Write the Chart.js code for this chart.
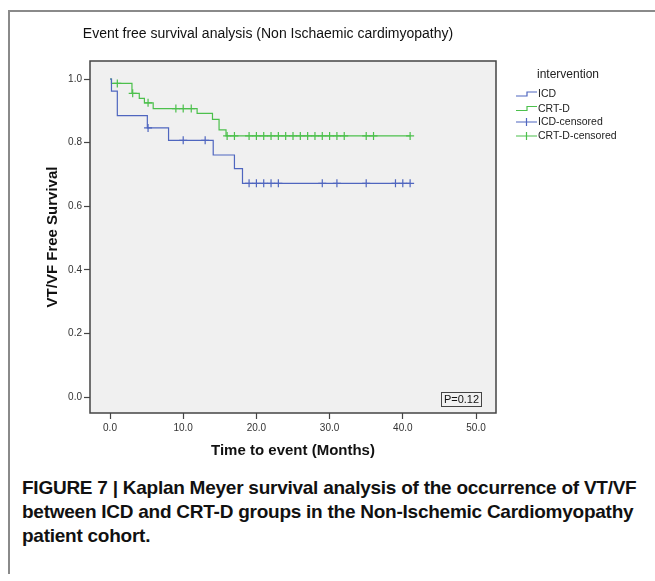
<!DOCTYPE html>
<html lang="en">
<head>
    <meta charset="UTF-8">
    <title>Event free survival analysis</title>
    <script src="https://cdn.jsdelivr.net/npm/chart.js"></script>
    <style>
        body { margin: 0; background: #fff; width: 655px; height: 581px; position: relative; overflow: hidden; }
        .frame { position: absolute; left: 8px; top: 10px; width: 660px; height: 562px;
                 border-left: 2px solid #8a8a8a; border-top: 2px solid #8a8a8a; }
        .chart-box { position: absolute; left: 0; top: 0; width: 655px; height: 470px; }
        .caption { position: absolute; left: 22px; top: 476px; white-space: nowrap;
                   font-family: "Liberation Sans", Arial, sans-serif; letter-spacing: -0.25px;
                   font-weight: bold; font-size: 19px; line-height: 24px; color: #111; }
    </style>
</head>
<body>
    <div class="frame"></div>
    <div class="chart-box"><canvas id="kmChart" width="655" height="470"></canvas></div>
    <div class="caption">FIGURE 7 | Kaplan Meyer survival analysis of the occurrence of VT/VF<br>between ICD and CRT-D groups in the Non-Ischemic Cardiomyopathy<br>patient cohort.</div>

    <script>
        // Kaplan-Meier steps (time in months, survival fraction)
        const icdTimes = [0, 0.2, 1.0, 5.1, 8.0, 14.1, 17.0, 18.1, 41.0];
        const icdSurv = [1.0, 0.962, 0.885, 0.846, 0.807, 0.761, 0.718, 0.672, 0.672];
        const icdCensorTimes = [5.2, 10.0, 13.0, 19, 20, 21, 22, 23, 29, 31, 35, 39, 40, 41];
        const icdCensorSurv = [0.846, 0.807, 0.807, 0.672, 0.672, 0.672, 0.672, 0.672, 0.672, 0.672, 0.672, 0.672, 0.672, 0.672];

        const crtTimes = [0, 0.2, 3.0, 4.0, 4.7, 5.9, 11.9, 14.0, 14.9, 15.85, 41.0];
        const crtSurv = [1.0, 0.986, 0.955, 0.939, 0.925, 0.907, 0.892, 0.873, 0.840, 0.821, 0.821];
        const crtCensorTimes = [1.0, 3.1, 5.2, 9.0, 10.0, 11.1, 16.0, 17.0, 19, 20, 21, 22, 23, 24, 25, 26, 27, 28, 29, 30, 31, 32, 35, 36, 41];
        const crtCensorSurv = [0.986, 0.955, 0.925, 0.907, 0.907, 0.907, 0.821, 0.821, 0.821, 0.821, 0.821, 0.821, 0.821, 0.821,
                               0.821, 0.821, 0.821, 0.821, 0.821, 0.821, 0.821, 0.821, 0.821, 0.821, 0.821];

        const xTickValues = [0, 10, 20, 30, 40, 50];
        const yTickValues = [0, 0.2, 0.4, 0.6, 0.8, 1.0];

        const groupLabels = ['ICD', 'CRT-D', 'ICD-censored', 'CRT-D-censored'];
        const chartTitle = 'Event free survival analysis (Non Ischaemic cardimyopathy)';
        const legendTitle = 'intervention';
        const pValueText = 'P=0.12';

        const blue = '#4f66bf';
        const green = '#4cc04c';
        const axisColor = '#444';

        function toPoints(xs, ys) {
            return xs.map((x, i) => ({ x: x, y: ys[i] }));
        }

        // plot background, frame, title, legend and the P value box
        const spssDecor = {
            id: 'spssDecor',
            beforeDatasetsDraw(chart) {
                const { ctx, chartArea: a } = chart;
                ctx.save();
                ctx.fillStyle = '#f0f0f0';
                ctx.fillRect(a.left, a.top, a.right - a.left, a.bottom - a.top);
                ctx.restore();
            },
            afterDraw(chart) {
                const { ctx, chartArea: a } = chart;
                ctx.save();
                ctx.strokeStyle = axisColor;
                ctx.lineWidth = 1.5;
                ctx.strokeRect(a.left, a.top, a.right - a.left, a.bottom - a.top);

                ctx.fillStyle = '#111';
                ctx.font = '14px "Liberation Sans", Arial, sans-serif';
                ctx.textAlign = 'center';
                ctx.textBaseline = 'middle';
                ctx.fillText(chartTitle, 268, 34);

                // legend
                ctx.font = '12px "Liberation Sans", Arial, sans-serif';
                ctx.fillStyle = '#222';
                ctx.fillText(legendTitle, 568, 75);
                ctx.textAlign = 'left';
                ctx.font = '10.5px "Liberation Sans", Arial, sans-serif';
                const rows = [94, 108.5, 122, 136];
                const cols = [blue, green, blue, green];
                rows.forEach((y, i) => {
                    ctx.strokeStyle = cols[i];
                    ctx.lineWidth = 1.2;
                    ctx.beginPath();
                    if (i < 2) {
                        ctx.moveTo(516, y + 2);
                        ctx.lineTo(527, y + 2);
                        ctx.lineTo(527, y - 2);
                        ctx.lineTo(537, y - 2);
                    } else {
                        ctx.moveTo(516, y);
                        ctx.lineTo(537, y);
                        ctx.moveTo(526.5, y - 4);
                        ctx.lineTo(526.5, y + 4);
                    }
                    ctx.stroke();
                    ctx.fillStyle = '#222';
                    ctx.fillText(groupLabels[i], 538, y + 0.5);
                });

                // P value box
                ctx.strokeStyle = axisColor;
                ctx.lineWidth = 1;
                ctx.strokeRect(441.5, 392.5, 40, 14);
                ctx.textAlign = 'center';
                ctx.fillStyle = '#111';
                ctx.font = '11px "Liberation Sans", Arial, sans-serif';
                ctx.fillText(pValueText, 461.5, 400);
                ctx.restore();
            }
        };

        const tickFont = { family: '"Liberation Sans", Arial, sans-serif', size: 10 };
        const axisTitleFont = { family: '"Liberation Sans", Arial, sans-serif', size: 15, weight: 'bold' };

        new Chart(document.getElementById('kmChart').getContext('2d'), {
            type: 'line',
            data: {
                datasets: [
                    {
                        label: groupLabels[0],
                        data: toPoints(icdTimes, icdSurv),
                        borderColor: blue, borderWidth: 1.2,
                        stepped: 'before', pointRadius: 0, fill: false
                    },
                    {
                        label: groupLabels[1],
                        data: toPoints(crtTimes, crtSurv),
                        borderColor: green, borderWidth: 1.2,
                        stepped: 'before', pointRadius: 0, fill: false
                    },
                    {
                        label: groupLabels[2],
                        data: toPoints(icdCensorTimes, icdCensorSurv),
                        showLine: false, pointStyle: 'cross', pointRadius: 4,
                        borderColor: blue, borderWidth: 1.2
                    },
                    {
                        label: groupLabels[3],
                        data: toPoints(crtCensorTimes, crtCensorSurv),
                        showLine: false, pointStyle: 'cross', pointRadius: 4,
                        borderColor: green, borderWidth: 1.2
                    }
                ]
            },
            options: {
                responsive: false,
                animation: false,
                layout: { padding: { left: 0, right: 159, top: 61, bottom: 0 } },
                plugins: {
                    legend: { display: false },
                    title: { display: false },
                    tooltip: { enabled: false }
                },
                scales: {
                    x: {
                        type: 'linear',
                        min: -20 / 7.32,
                        max: 386 / 7.32,
                        afterBuildTicks: s => { s.ticks = xTickValues.map(v => ({ value: v })); },
                        afterFit: s => { s.height = 57; },
                        ticks: { callback: v => v.toFixed(1), font: tickFont, color: '#333', padding: 3, maxRotation: 0, autoSkip: false },
                        grid: { drawOnChartArea: false, drawTicks: true, tickLength: 6, color: axisColor, tickWidth: 1.2 },
                        border: { display: false },
                        title: { display: true, text: 'Time to event (Months)', font: axisTitleFont, color: '#111', padding: { top: 0, bottom: 10 } }
                    },
                    y: {
                        type: 'linear',
                        min: -16 / 318,
                        max: 1 + 18 / 318,
                        afterBuildTicks: s => { s.ticks = yTickValues.map(v => ({ value: v })); },
                        afterFit: s => { s.width = 90; },
                        ticks: { callback: v => v.toFixed(1), font: tickFont, color: '#333', padding: 2, autoSkip: false },
                        grid: { drawOnChartArea: false, drawTicks: true, tickLength: 6, color: axisColor, tickWidth: 1.2 },
                        border: { display: false },
                        title: { display: true, text: 'VT/VF Free Survival', font: axisTitleFont, color: '#111', padding: { top: 44, bottom: 0 } }
                    }
                }
            },
            plugins: [spssDecor]
        });
    </script>
</body>
</html>
